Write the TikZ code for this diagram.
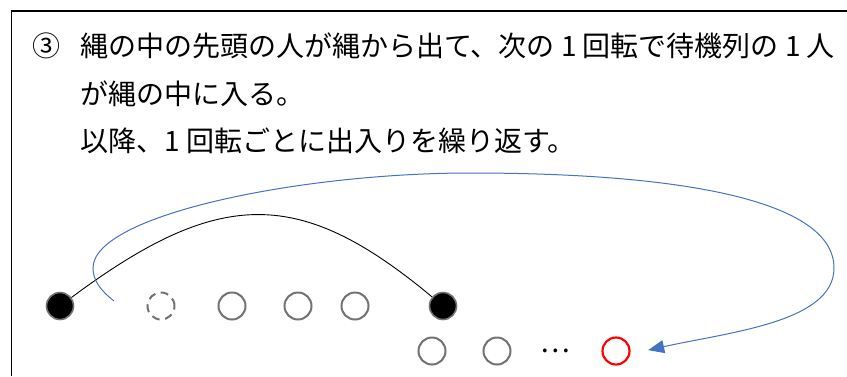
\documentclass[tikz,border=0pt]{standalone}
\usepackage{fontspec}
\setmainfont{Noto Sans CJK JP}
\usetikzlibrary{arrows.meta}
\definecolor{haiiro}{HTML}{767171}
\definecolor{aoiro}{HTML}{4472C4}

\begin{document}
\begin{tikzpicture}[
		x=1pt, y=-1pt,
		every node/.style={font=\fontsize{28}{28}\selectfont}
	]

	\tikzset{
	    hito/.style={draw=haiiro, circle, line width=2pt, minimum size=27pt, inner sep=0pt},
	    kuro/.style={hito, fill=black, line width=1.6pt},
	    tensen/.style={hito, dash pattern=on 8pt off 5.5pt},
	    aka/.style={hito, draw=red, line width=2.2pt},
	    bun/.style={anchor=west, inner sep=0pt}
	}

	\useasboundingbox (0,0) rectangle (847,376);

	% 枠
	\draw[line width=1.3pt] (11.5,376) -- (11.5,11) -- (847,11);

	% 説明文
	\node (num) at (46,46) {③};
	\node[bun] (t1) at (80,46) {縄の中の先頭の人が縄から出て、次の 1 回転で待機列の 1 人};
	\node[bun] (t2) at (80,94) {が縄の中に入る。};
	\node[bun] (t3) at (80,141) {以降、1 回転ごとに出入りを繰り返す。};

	% 縄の中の列
	\node[kuro] (L) at (60,306) {};
	\node[tensen] (D) at (161,306) {};
	\node[hito] (M1) at (232,306) {};
	\node[hito] (M2) at (298,306) {};
	\node[hito] (M3) at (355,306) {};
	\node[kuro] (R) at (443,306) {};

	% 待機列
	\node[hito] (Q1) at (432,351) {};
	\node[hito] (Q2) at (497,351) {};
	\node (dots) at (555,351) {…};
	\node[aka] (Q3) at (616,351) {};

	% 縄
	\draw[line width=0.9pt] (L) .. controls (220,187) and (300,187) .. (R);

	% 出た人の移動
	\coordinate (S) at (114,301);
	\draw[aoiro, line width=1pt, -{Triangle[length=16pt,width=13pt]}, shorten >=18pt]
	  (S) .. controls (100,290) and (93,280) .. (93,268)
	  .. controls (93,215) and (300,173) .. (470,173)
	  .. controls (680,173) and (834,200) .. (834,268)
	  .. controls (834,322) and (730,332) .. ([yshift=-3pt]Q3.east);

\end{tikzpicture}
\end{document}
